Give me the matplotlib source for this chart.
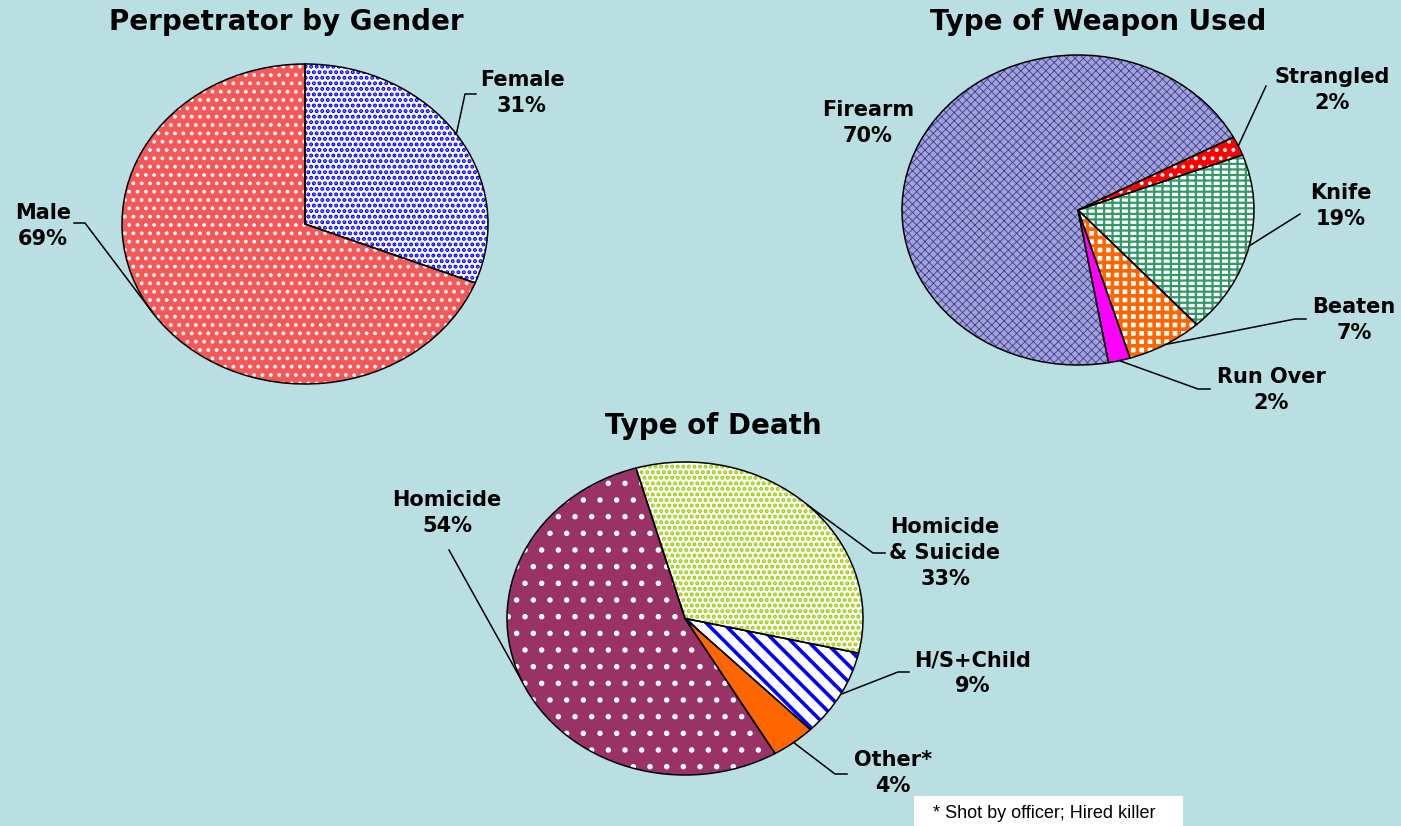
import numpy as np
import matplotlib
matplotlib.use('Agg')
import matplotlib.pyplot as plt
from matplotlib.lines import Line2D
from matplotlib.patches import Rectangle

W, H = 1401, 826
BG = '#B9DFE2'

# data
gender_labels = ['Female', 'Male']
gender_pct = [31, 69]

weapon_labels = ['Firearm', 'Strangled', 'Knife', 'Beaten', 'Run Over']
weapon_pct = [70, 2, 19, 7, 2]

death_labels = ['Homicide', 'Homicide\n& Suicide', 'H/S+Child', 'Other*']
death_pct = [54, 33, 9, 4]

titles = ['Perpetrator by Gender', 'Type of Weapon Used', 'Type of Death']
footnote = '* Shot by officer; Hired killer'

# slice styles: (face, hatch, hatch colour, hatch linewidth)
gender_styles = [('white', '...', '#0000FF', 2.0),
                 ('#F45858', '..', 'white', 1.5)]
weapon_styles = [('#A2A2D4', 'xxxx', '#3C3C9C', 0.6),
                 ('#FF0000', '..', 'white', 1.6),
                 ('white', '---||', '#339966', 1.6),
                 ('white', '++', '#FF6600', 2.6),
                 ('#FF00FF', None, '#FF00FF', 0)]
death_styles = [('#993366', '.', 'white', 1.5),
                ('white', '...', '#99CC00', 2.0),
                ('white', '\\\\', '#0000FF', 2.6),
                ('#FF6600', None, '#FF6600', 0)]

plt.rcParams['font.family'] = ['DejaVu Sans']
plt.rcParams['hatch.linewidth'] = 1.6

fig = plt.figure(figsize=(W / 100, H / 100), dpi=100, facecolor=BG)


def make_ax(left, top, width, height):
    return fig.add_axes([left / W, 1 - (top + height) / H, width / W, height / H])


def draw_pie(ax, values, startangle, styles):
    wedges, _ = ax.pie(values, startangle=startangle, counterclock=False, radius=1)
    for w, (fc, hatch, hc, hlw) in zip(wedges, styles):
        w.set_facecolor(fc)
        w.set_edgecolor(hc)
        w.set_linewidth(0)
        if hatch:
            w.set_hatch(hatch)
            if hasattr(w, 'set_hatchcolor'):
                w.set_hatchcolor(hc)
            if hasattr(w, 'set_hatch_linewidth'):
                w.set_hatch_linewidth(hlw)
        w.set_clip_on(False)
    outl, _ = ax.pie(values, startangle=startangle, counterclock=False, radius=1,
                     wedgeprops=dict(fill=False, edgecolor='black', linewidth=1.1))
    for w in outl:
        w.set_clip_on(False)
    ax.set_aspect('auto')
    ax.set_xlim(-1, 1)
    ax.set_ylim(-1, 1)
    ax.axis('off')
    return wedges


def leader(ax, wedge, elbow, end):
    # line from the middle of the slice edge to the label
    mid = np.deg2rad((wedge.theta1 + wedge.theta2) / 2)
    px, py = ax.transData.transform((np.cos(mid), np.sin(mid)))
    xs = [px / W, elbow[0] / W, end[0] / W]
    ys = [py / H, 1 - elbow[1] / H, 1 - end[1] / H]
    fig.add_artist(Line2D(xs, ys, color='black', lw=1.1, transform=fig.transFigure))


def put_label(text, pos):
    fig.text(pos[0] / W, 1 - pos[1] / H, text, ha='center', va='center',
             fontsize=15, fontweight='bold', linespacing=1.35)


# --- gender
ax1 = make_ax(122, 64, 366, 320)
w1 = draw_pie(ax1, gender_pct, 90, gender_styles)
g_pos = [(522, 93), (43, 226)]
g_lead = [((465, 94), (476, 94)), ((85, 223), (74, 223))]
for w, lab, pct, p, (el, en) in zip(w1, gender_labels, gender_pct, g_pos, g_lead):
    leader(ax1, w, el, en)
    put_label(f'{lab}\n{pct}%', p)

# --- weapon
ax2 = make_ax(902, 55, 352, 310)
w2 = draw_pie(ax2, weapon_pct, -80, weapon_styles)
wp_pos = [(868, 123), (1332, 90), (1341, 206), (1354, 320), (1271, 390)]
wp_lead = [None, ((1266, 86), (1266, 86)), ((1300, 214), (1300, 214)),
           ((1295, 319), (1306, 319)), ((1198, 389), (1210, 389))]
for w, lab, pct, p, ld in zip(w2, weapon_labels, weapon_pct, wp_pos, wp_lead):
    if ld is not None:
        leader(ax2, w, ld[0], ld[1])
    put_label(f'{lab}\n{pct}%', p)

# --- death
ax3 = make_ax(507, 462, 356, 313)
w3 = draw_pie(ax3, death_pct, -59.6, death_styles)
d_pos = [(447, 513), (945, 553), (973, 673), (893, 773)]
d_lead = [((449, 550), (449, 550)), ((873, 553), (885, 553)),
          ((898, 672), (909, 672)), ((835, 774), (847, 774))]
for w, lab, pct, p, (el, en) in zip(w3, death_labels, death_pct, d_pos, d_lead):
    leader(ax3, w, el, en)
    put_label(f'{lab}\n{pct}%', p)

# titles
for t, (x, y) in zip(titles, [(286, 22), (1098, 22), (713, 426)]):
    fig.text(x / W, 1 - y / H, t, ha='center', va='center', fontsize=20, fontweight='bold')

# footnote box
fig.add_artist(Rectangle((914 / W, 0), (1183 - 914) / W, (H - 796) / H,
                         transform=fig.transFigure, facecolor='white', edgecolor='none'))
fig.text(1044 / W, 1 - 813 / H, footnote, ha='center', va='center',
         fontsize=13, family='Liberation Sans')

fig.savefig('out.png', dpi=100, facecolor=BG)
